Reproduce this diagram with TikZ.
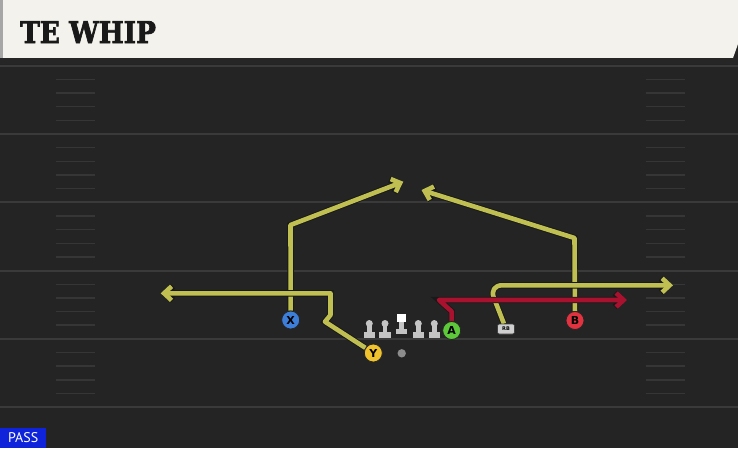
\documentclass[tikz,border=0pt]{standalone}
\usepackage{fontspec}
\setmainfont{DejaVu Sans}
\newfontfamily\titlefont{DejaVu Serif}[BoldFeatures={FakeBold=2.5}]
\newfontfamily\passfont{PT Sans}
\usetikzlibrary{arrows.meta}
\pgfdeclarelayer{field}
\pgfdeclarelayer{routes}
\pgfsetlayers{field,routes,main}
\definecolor{fieldbg}{HTML}{242424}
\definecolor{yardline}{HTML}{3A3A3A}
\definecolor{hashc}{HTML}{363636}
\definecolor{titlebg}{HTML}{F4F2EC}
\definecolor{routey}{HTML}{BFBF52}
\definecolor{router}{HTML}{A8122F}
\definecolor{passblue}{HTML}{0F24DA}
\definecolor{pblue}{HTML}{3C7ED8}
\definecolor{pyellow}{HTML}{F0C22E}
\definecolor{pgreen}{HTML}{5CC83A}
\definecolor{pred}{HTML}{E0323F}
\definecolor{linegray}{HTML}{C4C4C4}
\definecolor{rbgray}{HTML}{CFCFCF}
\tikzset{
  player/.style={circle, draw=black!85, line width=0.8pt, minimum size=18pt, inner sep=0pt,
    font=\bfseries\fontsize{11}{11}\selectfont, text=black},
  rbbox/.style={rounded corners=2pt, fill=rbgray, draw=black!75, line width=0.6pt,
    minimum width=17pt, minimum height=10pt, inner sep=0pt,
    font=\bfseries\fontsize{5}{5}\selectfont, text=black},
  route/.style={line width=4.6pt, line join=round, draw=#1,
    -{Straight Barb[length=7.5pt,width=14pt]},
    preaction={draw=black!90, line width=6.4pt}},
  yardstyle/.style={yardline, line width=2pt},
  hashstyle/.style={hashc, line width=1.5pt},
}
\begin{document}
\begin{tikzpicture}[x=1pt,y=-1pt]
\useasboundingbox (0,0) rectangle (738,448);
\begin{pgfonlayer}{field}
\fill[fieldbg] (0,0) rectangle (738,448);
\foreach \y in {65.7,134,202.3,270.6,338.9,407.2}
  \draw[yardstyle] (0,\y) -- (738,\y);
\foreach \b in {65.7,134,202.3,270.6,338.9}
  \foreach \k in {1,2,3,4} {
    \draw[hashstyle] (56,\b+\k*13.66) -- (95,\b+\k*13.66);
    \draw[hashstyle] (646,\b+\k*13.66) -- (685,\b+\k*13.66);
  }
\fill[titlebg] (0,0) -- (738,0) -- (738,44) -- (733,58) -- (0,58) -- cycle;
\fill[black!85] (0,58) rectangle (738,63.5);
\fill[black!35] (0,0) rectangle (3,58);
\end{pgfonlayer}

\node[anchor=base west, inner sep=0pt, text=black!90, font=\titlefont\bfseries\fontsize{30}{30}\selectfont] (title) at (20,43) {\scalebox{0.88}[1]{TE WHIP}};

% linemen
\foreach \lx in {369.3,385,418.3,434.3} {
  \fill[linegray] (\lx,323.5) circle (3.5);
  \fill[linegray] (\lx-2.2,326) rectangle (\lx+2.2,333);
  \fill[linegray] (\lx-5.8,332.3) rectangle (\lx+5.8,337.5);
}
\fill[white] (397,313.7) rectangle (406,322);
\fill[linegray] (399.3,322) rectangle (403.7,330);
\fill[linegray] (395.8,329.3) rectangle (407,334.2);
% ball
\fill[black!45] (401.7,353.3) circle (4.2);

% players
\node[player, fill=pblue] (X) at (290.7,320) {X};
\node[player, fill=pyellow] (Y) at (373.3,353) {Y};
\node[player, fill=pgreen] (A) at (451.7,330.5) {A};
\node[player, fill=pred] (B) at (575,320.5) {B};
\node[rbbox] (RB) at (506,329) {RB};

\coordinate (xend) at (403.3,181.7);
\coordinate (yend) at (160.7,293.3);
\coordinate (bend) at (421.5,190);
\coordinate (rbend) at (673,285.3);
\coordinate (aend) at (627,300);

\begin{pgfonlayer}{routes}
\draw[route=routey] (X) -- (290.5,225) -- (xend);
\draw[route=routey] (Y) -- (325,321.7) -- (330.5,315) -- (330.5,293.3) -- (yend);
\draw[route=routey] (B) -- (574.5,238) -- (bend);
\draw[route=routey, rounded corners=13pt] (RB) -- (489,285.3) -- (rbend);
\draw[route=router] (A) -- (451.7,311.5) -- (439,300) -- (aend);
\end{pgfonlayer}

\node[fill=passblue, text=white, anchor=south west, minimum width=46pt, minimum height=20pt,
  inner sep=0pt, font=\passfont\fontsize{14}{14}\selectfont] (pass) at (0,448) {PASS};
\end{tikzpicture}
\end{document}
